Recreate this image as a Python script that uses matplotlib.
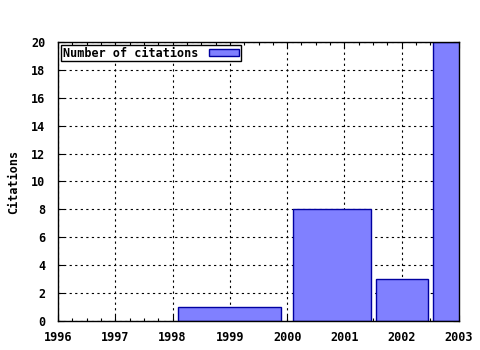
import matplotlib
matplotlib.use("Agg")
import matplotlib.pyplot as plt
from matplotlib.ticker import MultipleLocator

# bar centres, widths and heights (last one runs past the top of the axis)
centers = [1999.0, 2000.78, 2002.0, 2003.0]
widths = [1.8, 1.35, 0.9, 0.9]
citations = [1, 8, 3, 20]
years = [1996, 1997, 1998, 1999, 2000, 2001, 2002, 2003]
yticks = [0, 2, 4, 6, 8, 10, 12, 14, 16, 18, 20]

plt.rcParams['font.family'] = 'DejaVu Sans Mono'
plt.rcParams['font.weight'] = 'bold'
plt.rcParams['font.size'] = 8.5

fig = plt.figure(figsize=(4.8, 3.5), dpi=100)
ax = fig.add_axes([0.1208, 0.0829, 0.8355, 0.7971])

ax.bar(centers, citations, width=widths, color='#8080ff', edgecolor='#0000a0',
       linewidth=1.0, label='Number of citations', zorder=2)

ax.set_xlim(1996, 2003)
ax.set_ylim(0, 20)
ax.set_xticks(years)
ax.set_yticks(yticks)
ax.xaxis.set_minor_locator(MultipleLocator(0.25))
ax.tick_params(which='both', direction='in', top=True, right=True, length=4,
               width=0.8)
ax.tick_params(axis='x', pad=7)
ax.tick_params(axis='y', pad=9)
ax.tick_params(which='minor', length=2)
ax.tick_params(axis='y', which='minor', left=False, right=False)

ax.grid(True, which='major', linestyle=(0, (2, 3)), color='black',
        linewidth=0.8, zorder=1)
ax.set_axisbelow(True)
for s in ax.spines.values():
    s.set_linewidth(1.0)

ax.set_ylabel('Citations', labelpad=8, fontweight='bold')

leg = ax.legend(loc='upper left', markerfirst=False, fancybox=False,
                framealpha=1, edgecolor='black', borderpad=0.15,
                handlelength=2.6, handleheight=0.55, borderaxespad=0.25,
                handletextpad=0.9)
leg.get_frame().set_linewidth(1.0)

fig.savefig('out.png', dpi=100)
